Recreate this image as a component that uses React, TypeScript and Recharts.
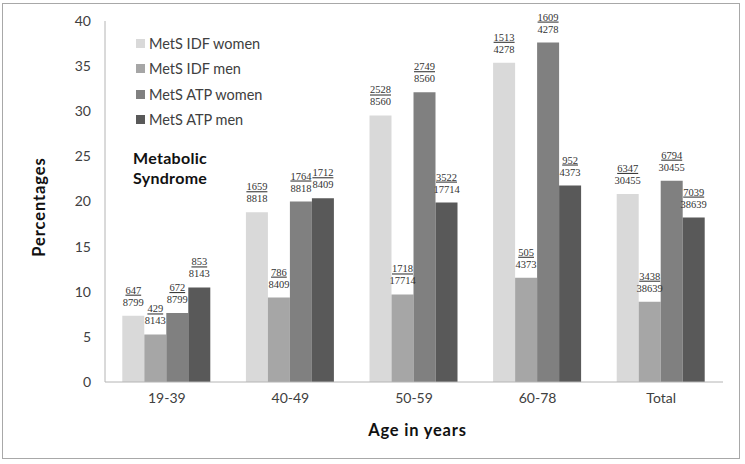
import React from 'react';
import { BarChart, Bar, XAxis, YAxis, LabelList, Legend } from 'recharts';

const ageGroups = ['19-39', '40-49', '50-59', '60-78', 'Total'];

// percentages
const idfWomen = [7.35, 18.81, 29.53, 35.37, 20.84];
const idfMen = [5.27, 9.35, 9.7, 11.55, 8.9];
const atpWomen = [7.64, 20.0, 32.11, 37.61, 22.31];
const atpMen = [10.48, 20.36, 19.88, 21.77, 18.22];

// fraction labels above each bar (cases / total)
const idfWomenLabels = ['647/8799', '1659/8818', '2528/8560', '1513/4278', '6347/30455'];
const idfMenLabels = ['429/8143', '786/8409', '1718/17714', '505/4373', '3438/38639'];
const atpWomenLabels = ['672/8799', '1764/8818', '2749/8560', '1609/4278', '6794/30455'];
const atpMenLabels = ['853/8143', '1712/8409', '3522/17714', '952/4373', '7039/38639'];

const seriesNames = ['MetS IDF women', 'MetS IDF men', 'MetS ATP women', 'MetS ATP men'];

const yTicks = [0, 5, 10, 15, 20, 25, 30, 35, 40];

const data = ageGroups.map((age, i) => ({
  age,
  idfWomen: idfWomen[i],
  idfMen: idfMen[i],
  atpWomen: atpWomen[i],
  atpMen: atpMen[i],
  idfWomenLabel: idfWomenLabels[i],
  idfMenLabel: idfMenLabels[i],
  atpWomenLabel: atpWomenLabels[i],
  atpMenLabel: atpMenLabels[i],
}));

const FONT = 'Lato, "Open Sans", sans-serif';
const SERIF = '"Liberation Serif", "DejaVu Serif", serif';

const FractionLabel = (props: any) => {
  const vb = props.viewBox || {};
  const x = props.x ?? vb.x;
  const y = props.y ?? vb.y;
  const width = props.width ?? vb.width;
  if (props.value == null || x == null) return null;
  const [num, den] = String(props.value).split('/');
  const cx = x + width / 2;
  return (
    <g fontFamily={SERIF} fontSize={10.5} fill="#333">
      <text x={cx} y={y - 22} textAnchor="middle" style={{ textDecoration: 'underline' }}>
        {num}
      </text>
      <text x={cx} y={y - 10} textAnchor="middle">
        {den}
      </text>
    </g>
  );
};

const LegendBox = (props: any) => {
  const payload: any[] = props.payload || [];
  const items = seriesNames
    .map((n) => payload.find((p) => p.value === n))
    .filter(Boolean);
  return (
    <div style={{ fontFamily: FONT, fontSize: 14.5, color: '#404040' }}>
      {items.map((p: any) => (
        <div key={p.value} style={{ display: 'flex', alignItems: 'center', height: 25.3 }}>
          <span style={{ width: 9, height: 9, background: p.color, marginRight: 4, display: 'inline-block' }} />
          <span>{p.value}</span>
        </div>
      ))}
    </div>
  );
};

const titleStyle: React.CSSProperties = {
  position: 'absolute',
  fontFamily: FONT,
  fontWeight: 'bold',
  color: '#111',
  whiteSpace: 'nowrap',
};

export default function App() {
  return (
    <div style={{ position: 'absolute', left: 0, top: 0, width: 745, height: 464, background: '#fff' }}>
      <div
        style={{
          position: 'absolute',
          left: 2,
          top: 3,
          width: 736,
          height: 454,
          border: '1.5px solid #a8a8a8',
        }}
      />
      <BarChart
        width={745}
        height={464}
        data={data}
        margin={{ top: 21, right: 22, bottom: 52, left: 0 }}
        barCategoryGap="14%"
        barGap={0}
      >
        <XAxis
          dataKey="age"
          axisLine={{ stroke: '#b4b4b4' }}
          tickLine={false}
          tickSize={0}
          tickMargin={11}
          tick={{ fill: '#404040', fontSize: 14, fontFamily: FONT }}
        />
        <YAxis
          domain={[0, 40]}
          ticks={yTicks}
          width={105}
          axisLine={{ stroke: '#b4b4b4' }}
          tickLine={false}
          tickSize={0}
          tickMargin={14}
          tick={{ fill: '#404040', fontSize: 14, fontFamily: FONT }}
        />
        <Legend
          layout="vertical"
          align="center"
          verticalAlign="middle"
          content={<LegendBox />}
          wrapperStyle={{ position: 'absolute', left: 136, top: 31, width: 180 }}
        />
        <Bar dataKey="idfWomen" name={seriesNames[0]} fill="#d9d9d9" isAnimationActive={false}>
          <LabelList dataKey="idfWomenLabel" content={<FractionLabel />} />
        </Bar>
        <Bar dataKey="idfMen" name={seriesNames[1]} fill="#a6a6a6" isAnimationActive={false}>
          <LabelList dataKey="idfMenLabel" content={<FractionLabel />} />
        </Bar>
        <Bar dataKey="atpWomen" name={seriesNames[2]} fill="#808080" isAnimationActive={false}>
          <LabelList dataKey="atpWomenLabel" content={<FractionLabel />} />
        </Bar>
        <Bar dataKey="atpMen" name={seriesNames[3]} fill="#595959" isAnimationActive={false}>
          <LabelList dataKey="atpMenLabel" content={<FractionLabel />} />
        </Bar>
      </BarChart>
      <div style={{ ...titleStyle, left: 133, top: 148, fontSize: 16, lineHeight: '20px', letterSpacing: 0.3 }}>
        Metabolic
        <br />
        Syndrome
      </div>
      <div
        style={{
          ...titleStyle,
          left: 0,
          width: 835,
          top: 420,
          textAlign: 'center',
          fontSize: 16.5,
          letterSpacing: 0.8,
        }}
      >
        Age in years
      </div>
      <div
        style={{
          ...titleStyle,
          left: 39,
          top: 207,
          transform: 'translate(-50%, -50%) rotate(-90deg)',
          fontSize: 16.5,
          letterSpacing: 0.9,
        }}
      >
        Percentages
      </div>
    </div>
  );
}
